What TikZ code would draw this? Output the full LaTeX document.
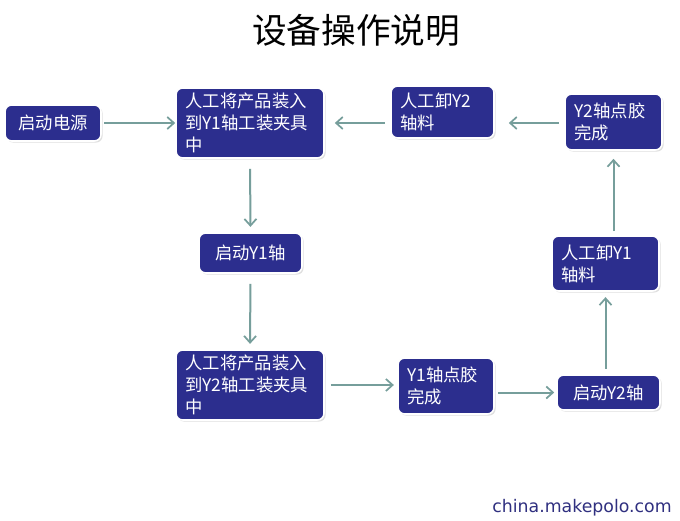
\documentclass[tikz,border=0pt]{standalone}
\usepackage{fontspec}
\newfontfamily\cjk{Noto Sans CJK SC}
\newfontfamily\wmfont{DejaVu Sans}
\usetikzlibrary{arrows.meta,shadows}
\definecolor{boxblue}{RGB}{44,46,142}
\definecolor{arrowc}{RGB}{118,158,155}
\definecolor{wmblue}{RGB}{48,48,128}
\tikzset{
  box/.style={draw=white, line width=1.2pt, fill=boxblue, rounded corners=5pt,
    text=white, font=\cjk\fontsize{13}{16.5}\selectfont, inner xsep=7pt, inner ysep=2pt,
    drop shadow={opacity=0.25, shadow xshift=1.2pt, shadow yshift=-1.2pt}},
  mbox/.style={box, align=left},
  sbox/.style={box, align=center},
  flow/.style={draw=arrowc, line width=1.5pt, -{Straight Barb[length=5pt,width=9pt,line width=1.3pt]}}
}
\begin{document}
\begin{tikzpicture}[x=0.75pt, y=-0.75pt]
\useasboundingbox[fill=white] (0,0) rectangle (680,520);
\node[font=\cjk\fontsize{26}{30}\selectfont] (title) at (356,30) {设备操作说明};

\node[sbox, minimum width=72pt, minimum height=27pt] (n1) at (53,123) {启动电源};
\node[mbox, minimum width=111pt, minimum height=52.5pt, text width=97pt] (n2) at (250,123) {人工将产品装入\\到Y1轴工装夹具\\中};
\node[mbox, minimum width=77.25pt, minimum height=39pt, text width=63pt] (n3) at (442.5,112) {人工卸Y2\\轴料};
\node[mbox, minimum width=72.75pt, minimum height=42pt, text width=58.5pt] (n4) at (613.5,122) {Y2轴点胶\\完成};
\node[sbox, minimum width=77.25pt, minimum height=30pt] (n5) at (250.5,253) {启动Y1轴};
\node[mbox, minimum width=111pt, minimum height=52.5pt, text width=97pt] (n6) at (250,385) {人工将产品装入\\到Y2轴工装夹具\\中};
\node[mbox, minimum width=72pt, minimum height=42pt, text width=58pt] (n7) at (446,386) {Y1轴点胶\\完成};
\node[sbox, minimum width=77.25pt, minimum height=26.25pt] (n8) at (608.5,392.5) {启动Y2轴};
\node[mbox, minimum width=80.25pt, minimum height=41.25pt, text width=66pt] (n9) at (605.5,263.5) {人工卸Y1\\轴料};

\draw[flow, shorten <=2pt] (n1.east) -- (n1.east -| n2.west);
\draw[flow, shorten <=4pt, shorten >=7.5pt] (n3.west |- n2.east) -- (n2.east);
\draw[flow, shorten <=4pt, shorten >=10.5pt] (n4.west |- n2.east) -- (n4.west |- n2.east -| n3.east);
\draw[flow, shorten <=7.5pt, shorten >=4pt] (n2.south) -- (n5.north);
\draw[flow, shorten <=7.5pt, shorten >=4pt] (n5.south) -- (n6.north);
\draw[flow, shorten <=4.5pt, shorten >=2.5pt] (n6.east) -- (n6.east -| n7.west);
\draw[flow, shorten <=2.5pt, shorten >=1.5pt] (n7.east |- n8.west) -- (n8.west);
\draw[flow, shorten <=4pt, shorten >=4pt] (n9.south |- n8.north) -- (n9.south);
\draw[flow, shorten <=3pt, shorten >=6pt] (n4.south |- n9.north) -- (n4.south);

\node[font=\wmfont\fontsize{13}{15}\selectfont, text=wmblue] (wm) at (582,508) {china.makepolo.com};
\end{tikzpicture}
\end{document}
